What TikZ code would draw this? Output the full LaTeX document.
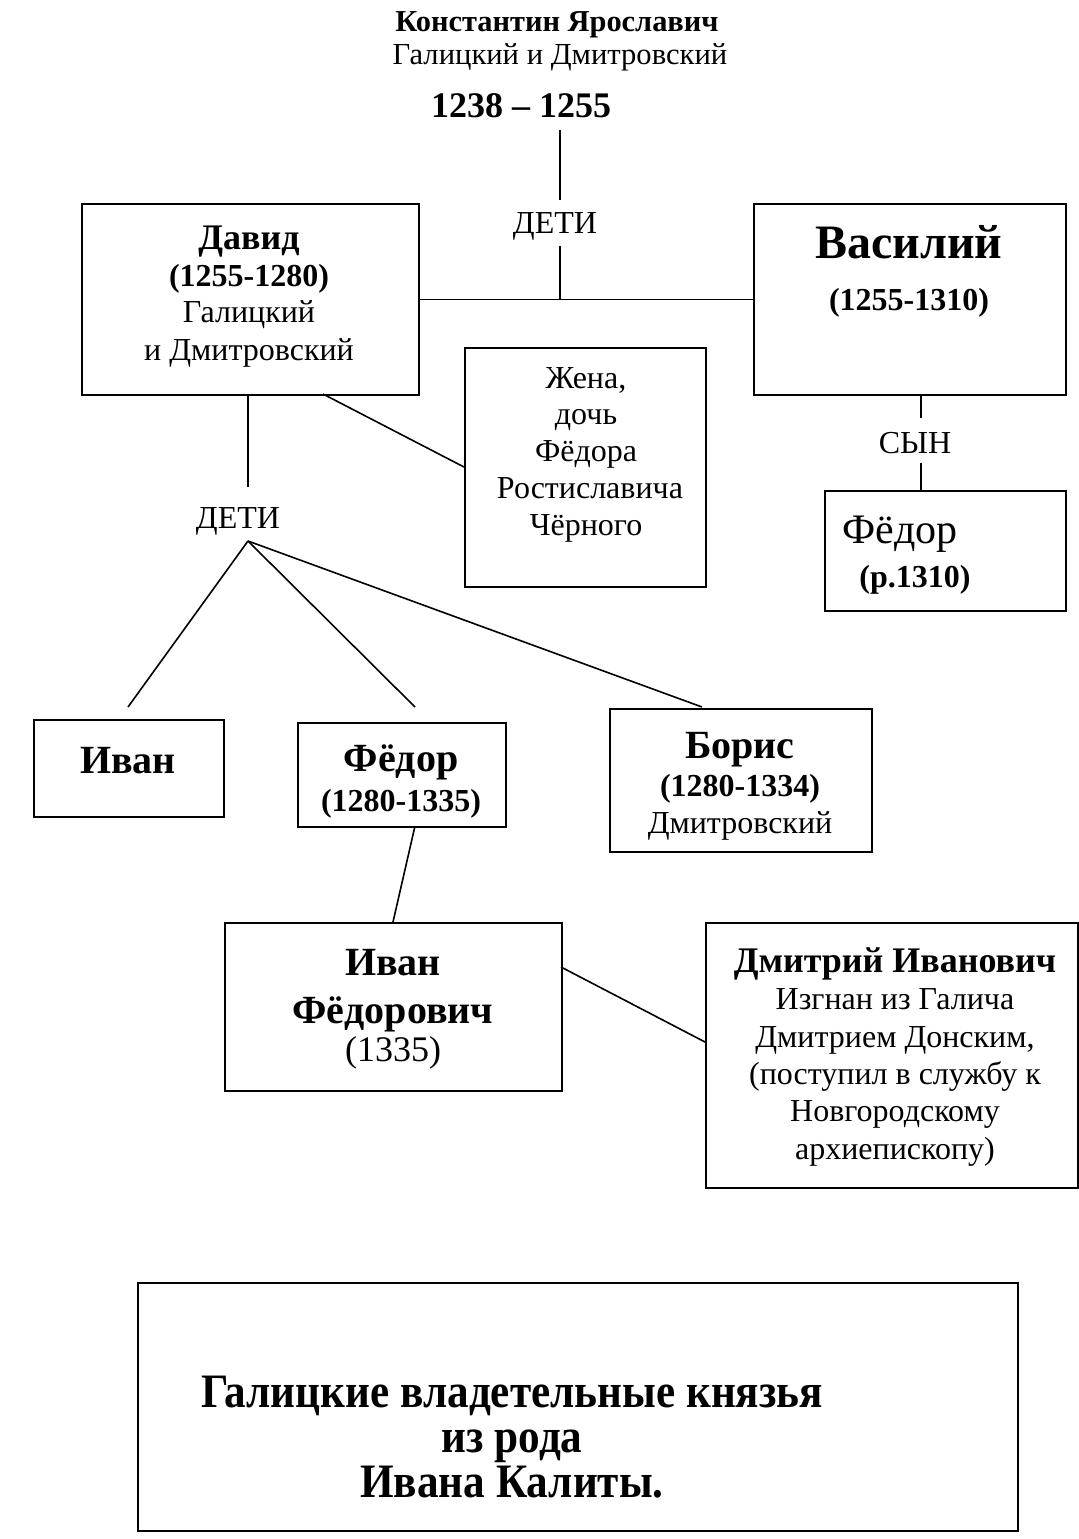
\documentclass[tikz,border=0pt]{standalone}
\usepackage{fontspec}
\setmainfont{Liberation Serif}
\usepackage{graphicx}
\begin{document}
\begin{tikzpicture}[x=0.5pt,y=-0.5pt,
  box/.style={draw, line width=1.1pt, anchor=north west, inner sep=0pt},
  con/.style={line width=0.8pt},
  tx/.style={anchor=base, inner sep=0pt},
  r15/.style={tx, font=\fontsize{15.3}{18}\selectfont},
  r16/.style={tx, font=\fontsize{16}{19}\selectfont},
  r18/.style={tx, font=\fontsize{18}{21}\selectfont},
  r21/.style={tx, font=\fontsize{21}{24}\selectfont},
  b15/.style={tx, font=\fontsize{15.2}{18}\selectfont\bfseries},
  b16/.style={tx, font=\fontsize{16}{19}\selectfont\bfseries},
  b18/.style={tx, font=\fontsize{18}{21}\selectfont\bfseries},
  b20/.style={tx, font=\fontsize{20}{23}\selectfont\bfseries},
  b24/.style={tx, font=\fontsize{24}{27}\selectfont\bfseries},
  bt/.style={tx, font=\fontsize{24}{27}\selectfont\bfseries}]
\useasboundingbox (0,0) rectangle (1078,1539);

% title
\node[b15] (k1) at (557,31) {Константин Ярославич};
\node[r15] (k2) at (560,64) {Галицкий и Дмитровский};
\node[b18] (k3) at (521,117) {1238 – 1255};

% boxes
\node[box, minimum width=168.5pt, minimum height=95.5pt] (david) at (81,203) {};
\node[box, minimum width=156pt, minimum height=95.5pt] (vasily) at (753,203) {};
\node[box, minimum width=120.5pt, minimum height=119.5pt] (wife) at (464,347) {};
\node[box, minimum width=120.5pt, minimum height=60pt] (fedorv) at (824,490) {};
\node[box, minimum width=95pt, minimum height=48.5pt] (ivan) at (33,719) {};
\node[box, minimum width=104pt, minimum height=52pt] (fedor) at (297,722) {};
\node[box, minimum width=131pt, minimum height=71.5pt] (boris) at (609,708) {};
\node[box, minimum width=168.5pt, minimum height=84pt] (ivanf) at (224,922) {};
\node[box, minimum width=186pt, minimum height=132.5pt] (dmitry) at (705,922) {};
\node[box, minimum width=440pt, minimum height=124pt] (title) at (137,1282) {};

% connectors top
\coordinate (a1) at (560,130);
\coordinate (a2) at (560,200);
\node[r16] (deti1) at (555,233) {ДЕТИ};
\coordinate (a3) at (560,246);
\coordinate (a4) at (560,298.5);
\draw[con] (a1) -- (a2);
\draw[con] (a3) -- (a4);
\draw[con] (david.east) -- (vasily.west);

% David text
\node[b18] (d1) at (249,249) {Давид};
\node[b16] (d2) at (249,286) {(1255-1280)};
\node[r16] (d3) at (249,322) {Галицкий};
\node[r16] (d4) at (249,360) {и Дмитровский};

% Vasily text
\node[b24] (v1) at (909,258) {Василий};
\node[b16] (v2) at (909,310) {(1255-1310)};

% son
\coordinate (s1) at (921,394);
\coordinate (s2) at (921,418);
\node[r16] (syn) at (915,453) {СЫН};
\coordinate (s3) at (921,463);
\coordinate (s4) at (921,490);
\draw[con] (s1) -- (s2);
\draw[con] (s3) -- (s4);
\node[r21] (fv1) at (900,543) {Фёдор};
\node[b16] (fv2) at (915,587) {(р.1310)};

% wife
\coordinate (w1) at (323,394);
\coordinate (w2) at (464,467);
\draw[con] (w1) -- (w2);
\node[r16] (wt1) at (586,388) {Жена,};
\node[r16] (wt2) at (586,424) {дочь};
\node[r16] (wt3) at (586,461) {Фёдора};
\node[r16] (wt4) at (590,498) {Ростиславича};
\node[r16] (wt5) at (586,535) {Чёрного};

% children of David
\coordinate (c1) at (248,394);
\coordinate (c2) at (248,487);
\draw[con] (c1) -- (c2);
\node[r16] (deti2) at (238,528) {ДЕТИ};
\coordinate (f0) at (248,541);
\coordinate (fi) at (128,707);
\coordinate (ff) at (415,707);
\coordinate (fb) at (702,707);
\draw[con] (f0) -- (fi);
\draw[con] (f0) -- (ff);
\draw[con] (f0) -- (fb);

\node[b20] (it) at (128,773) {Иван};
\node[b20] (ft1) at (401,771) {Фёдор};
\node[b16] (ft2) at (401,811) {(1280-1335)};
\node[b20] (bt1) at (740,758) {Борис};
\node[b16] (bt2) at (740,796) {(1280-1334)};
\node[r16] (bt3) at (740,833) {Дмитровский};

% Ivan Fedorovich
\coordinate (g1) at (415,826);
\coordinate (g2) at (393,922);
\draw[con] (g1) -- (g2);
\node[b20] (if1) at (393,975) {Иван};
\node[b20] (if2) at (393,1023) {Фёдорович};
\node[r18] (if3) at (393,1061) {(1335)};

% Dmitry
\coordinate (h1) at (561,967);
\coordinate (h2) at (705,1042);
\draw[con] (h1) -- (h2);
\node[b18] (dm1) at (895,972) {Дмитрий Иванович};
\node[r16] (dm2) at (895,1009) {Изгнан из Галича};
\node[r16] (dm3) at (895,1047) {Дмитрием Донским,};
\node[r16] (dm4) at (895,1084) {(поступил в службу к};
\node[r16] (dm5) at (895,1121) {Новгородскому};
\node[r16] (dm6) at (895,1159) {архиепископу)};

% bottom title
\node[bt] (tt1) at (512,1407) {\scalebox{0.9}[1]{Галицкие владетельные князья}};
\node[bt] (tt2) at (512,1452) {\scalebox{0.9}[1]{из рода}};
\node[bt] (tt3) at (512,1497) {\scalebox{0.9}[1]{Ивана Калиты.}};
\end{tikzpicture}
\end{document}
